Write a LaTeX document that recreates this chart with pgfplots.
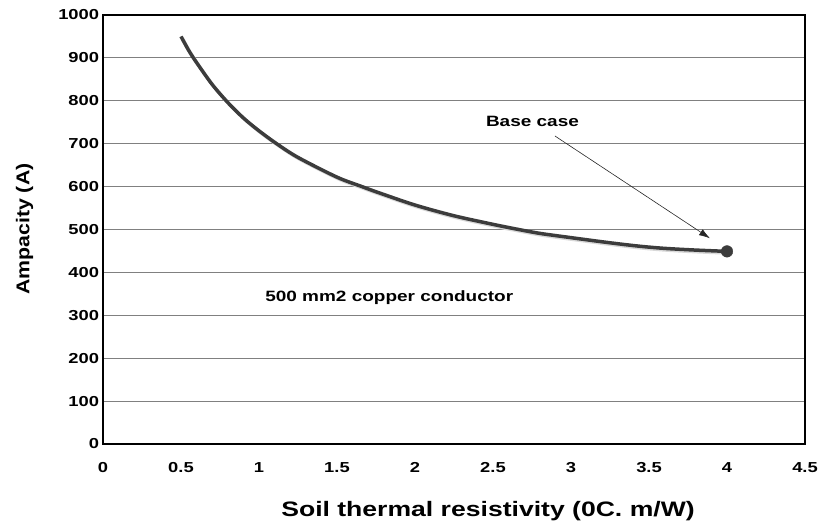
\documentclass[border=0pt]{standalone}
\usepackage{pgfplots}
\pgfplotsset{compat=1.18}
\usepackage{fontspec}
\setmainfont{Liberation Sans}
\usetikzlibrary{arrows.meta}
\definecolor{curve}{RGB}{60,60,60}
\definecolor{gridc}{RGB}{128,128,128}
\begin{document}
\begin{tikzpicture}
\path[use as bounding box] (-103bp,-78bp) rectangle (717bp,444bp);
\begin{axis}[
  scale only axis, width=702bp, height=429bp,
  at={(0,0)}, anchor=south west,
  xmin=0, xmax=4.5, ymin=0, ymax=1000,
  xtick={0,0.5,1,1.5,2,2.5,3,3.5,4,4.5},
  ytick={0,100,200,300,400,500,600,700,800,900,1000},
  ymajorgrids,
  grid style={gridc, line width=0.9bp},
  axis line style={black, line width=1.6bp},
  major tick length=0pt,
  clip=false,
  /pgf/number format/assume math mode=true,
  /pgf/number format/1000 sep={},
  tick label style={font=\fontsize{14.5}{16}\selectfont\bfseries},
  xticklabel={\scalebox{1.27}[1]{\pgfmathprintnumber{\tick}}},
  yticklabel={\scalebox{1.27}[1]{\pgfmathprintnumber{\tick}}},
  xticklabel style={anchor=base, yshift=-28.7bp},
  yticklabel style={anchor=east, inner sep=0pt, xshift=-3.7bp},
]
\addplot[no markers, smooth, line width=3.2bp, gray!30, xshift=1.5bp, yshift=-1.8bp] table {
x y
0.50 950
0.55 917
0.60 889
0.70 838
0.80 796
0.90 760
1.00 730
1.113 700
1.25 668
1.50 622
1.66 600
1.75 588
2.00 557
2.25 532
2.50 512
2.65 501
2.80 491
3.00 481
3.25 469
3.44 461
3.60 456
3.80 452
4.00 449
};
\addplot[no markers, smooth, line width=3.5bp, curve] table {
x y
0.50 950
0.55 917
0.60 889
0.70 838
0.80 796
0.90 760
1.00 730
1.113 700
1.25 668
1.50 622
1.66 600
1.75 588
2.00 557
2.25 532
2.50 512
2.65 501
2.80 491
3.00 481
3.25 469
3.44 461
3.60 456
3.80 452
4.00 449
};
\addplot[only marks, mark=*, mark size=5.8bp, curve] coordinates {(4,449)};
\draw[-{Latex[length=11bp,width=7bp]}, line width=0.6bp, black!85] (axis cs:2.897,718) -- (axis cs:3.891,479.5);
\node[anchor=base, inner sep=0pt, font=\fontsize{15}{17}\selectfont\bfseries] at (axis cs:2.753,739.6) {\scalebox{1.27}[1]{Base case}};
\node[anchor=base, inner sep=0pt, font=\fontsize{15}{17}\selectfont\bfseries] at (axis cs:1.835,331.7) {\scalebox{1.27}[1]{500 mm2 copper conductor}};
\node[anchor=base, inner sep=0pt, yshift=-72.7bp, font=\fontsize{21}{24}\selectfont\bfseries] at (axis cs:2.468,0) {\scalebox{1.27}[1]{Soil thermal resistivity (0C. m/W)}};
\node[rotate=90, anchor=base, inner sep=0pt, font=\fontsize{18.6}{21}\selectfont\bfseries] at (axis cs:-0.472,500.7) {\scalebox{1.15}[1]{Ampacity (A)}};
\end{axis}
\end{tikzpicture}
\end{document}
